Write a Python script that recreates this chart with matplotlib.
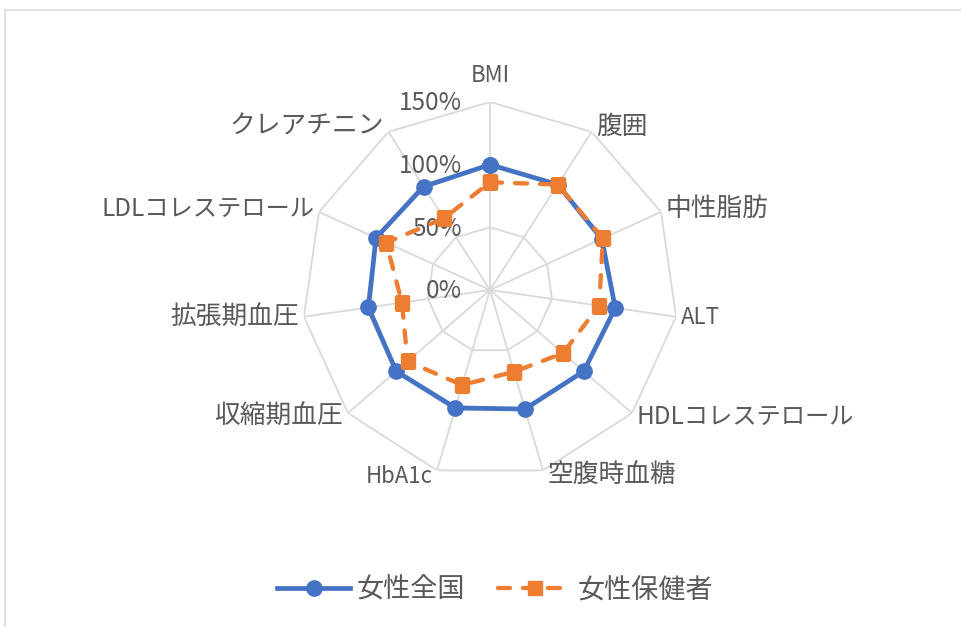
import numpy as np
import matplotlib
matplotlib.use("Agg")
import matplotlib.pyplot as plt
import matplotlib.patches as patches

plt.rcParams["font.family"] = ["Noto Sans CJK JP", "DejaVu Sans"]

# categories, clockwise from the top
categories = ["BMI", "腹囲", "中性脂肪", "ALT", "HDLコレステロール", "空腹時血糖",
              "HbA1c", "収縮期血圧", "拡張期血圧", "LDLコレステロール", "クレアチニン"]
# values in %
national = [100, 100, 98, 101, 99, 99, 98, 99, 98, 100, 98]
insured = [86, 100, 99, 88, 77, 68, 79, 87, 71, 91, 68]
series_names = ["女性全国", "女性保健者"]
ring_levels = [0, 50, 100, 150]
ring_labels = ["0%", "50%", "100%", "150%"]

BLUE = "#4472C4"
ORANGE = "#ED7D31"
GRID = "#D9D9D9"
TEXT = "#595959"

fig = plt.figure(figsize=(9.62, 6.27), dpi=100)

# light frame around the chart area
fig.patches.append(patches.Rectangle((5 / 962, -0.05), 1.0, 1 - 10 / 627 + 0.05,
                                     transform=fig.transFigure, fill=False,
                                     edgecolor=GRID, linewidth=1.2))

cx, cy, rad = 490 / 962, 1 - 290 / 627, 188
ax = fig.add_axes([cx - rad / 962, cy - rad / 627, 2 * rad / 962, 2 * rad / 627],
                  projection="polar")
ax.set_theta_zero_location("N")
ax.set_theta_direction(-1)
ax.set_ylim(0, 150)
ax.set_xticks([])
ax.set_yticks([])
ax.grid(False)
ax.spines["polar"].set_visible(False)
ax.patch.set_alpha(0)

n = len(categories)
theta = np.linspace(0, 2 * np.pi, n, endpoint=False)
closed = np.append(theta, theta[0])

# polygon rings and spokes
for lvl in ring_levels[1:]:
    ax.plot(closed, [lvl] * (n + 1), color=GRID, lw=1.3, zorder=1)
for t in theta:
    ax.plot([t, t], [0, 150], color=GRID, lw=1.3, zorder=1)

ax.plot(closed, national + national[:1], color=BLUE, lw=3.4, marker="o",
        markersize=11, label=series_names[0], zorder=3)
ax.plot(closed, insured + insured[:1], color=ORANGE, lw=3.1, marker="s",
        markersize=10, linestyle=(0, (2.8, 3.0)), dash_capstyle="round",
        label=series_names[1], zorder=4)

# radial value labels
for lvl, lab in zip(ring_levels, ring_labels):
    ax.annotate(lab, xy=(0, lvl), xytext=(-20, -1), textcoords="offset points",
                ha="right", va="center", fontsize=17.5, color=TEXT, zorder=2)

# category labels just outside the outer ring
for t, lab in zip(theta, categories):
    s, c = np.sin(t), np.cos(t)
    size = 16 if lab.isascii() else 18.5
    if "コレステロール" in lab:
        size = 17.5
    if abs(s) < 1e-6:
        ax.annotate(lab, xy=(t, 150), xytext=(0, 11), textcoords="offset points",
                    ha="center", va="bottom", fontsize=size, color=TEXT)
    else:
        dx = 3.5 if s > 0 else -3.5
        ax.annotate(lab, xy=(t, 150), xytext=(dx, 4.5 * c), textcoords="offset points",
                    ha="left" if s > 0 else "right", va="center", fontsize=size,
                    color=TEXT)

fig.legend(loc="center", bbox_to_anchor=(0.515, 1 - 590 / 627), ncol=2, frameon=False,
           fontsize=19.5, handlelength=2.7, columnspacing=1.2, handletextpad=0.25,
           labelcolor=TEXT)

fig.savefig("out.png", dpi=100)
